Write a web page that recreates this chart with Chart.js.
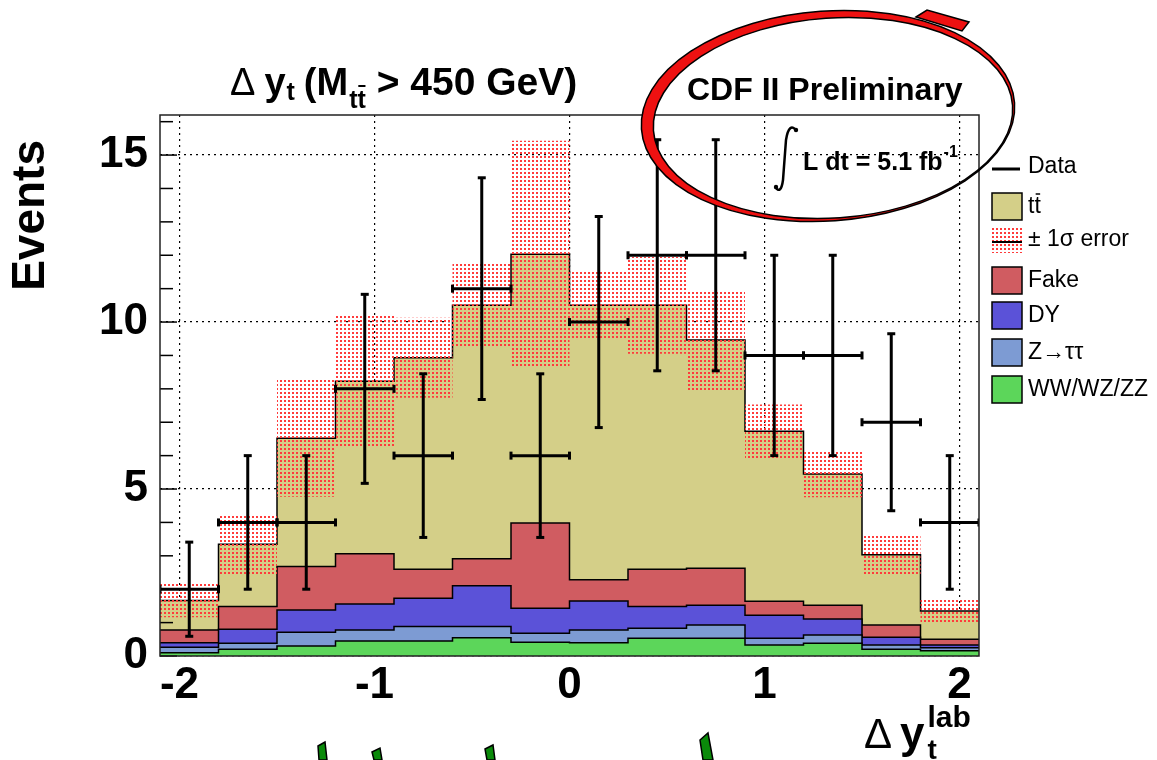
<!DOCTYPE html>
<html>
<head>
<meta charset="utf-8">
<script src="https://cdn.jsdelivr.net/npm/chart.js@4.4.1/dist/chart.umd.min.js"></script>
<style>
  html, body { margin: 0; padding: 0; background: #fff; }
  #wrap { width: 1157px; height: 760px; }
</style>
</head>
<body>
<div id="wrap"><canvas id="c" width="1157" height="760"></canvas></div>
<script>
// bins of Delta y_t (lab), width 0.3
const binEdges = [-2.1, -1.8, -1.5, -1.2, -0.9, -0.6, -0.3, 0, 0.3, 0.6, 0.9, 1.2, 1.5, 1.8, 2.1];
// stacked backgrounds, bottom -> top
const dibosonVals = [0.10, 0.20, 0.30, 0.45, 0.45, 0.55, 0.41, 0.40, 0.53, 0.53, 0.33, 0.38, 0.20, 0.16];
const ztautauVals = [0.16, 0.18, 0.41, 0.33, 0.43, 0.33, 0.27, 0.38, 0.30, 0.40, 0.20, 0.25, 0.13, 0.09];
const dyVals      = [0.14, 0.42, 0.67, 0.78, 0.85, 1.22, 0.75, 0.87, 0.65, 0.59, 0.69, 0.48, 0.23, 0.08];
const fakeVals    = [0.38, 0.68, 1.30, 1.50, 0.87, 0.81, 2.55, 0.63, 1.12, 1.11, 0.42, 0.41, 0.37, 0.17];
const ttbarVals   = [0.88, 1.87, 3.84, 5.17, 6.33, 7.59, 8.05, 8.22, 7.90, 6.83, 5.09, 3.93, 2.10, 0.85];
// +-1 sigma band on the total prediction
const sysErr      = [0.50, 0.90, 1.75, 2.00, 1.20, 1.25, 3.40, 1.00, 1.45, 1.50, 0.80, 0.70, 0.58, 0.35];
// data
const dataVals = [2, 4, 4, 8, 6, 11, 6, 10, 12, 12, 9, 9, 7, 4];
const dataErr  = [1.41, 2.00, 2.00, 2.83, 2.45, 3.32, 2.45, 3.16, 3.46, 3.46, 3.00, 3.00, 2.65, 2.00];
const xTicks = [-2, -1, 0, 1, 2];
const yTicks = [0, 5, 10, 15];

const FONT = '"Liberation Sans", Arial, Helvetica, sans-serif';
const colors = { ww: '#5cd65a', ztt: '#7d9bd3', dy: '#5b52d8', fake: '#d05c61', tt: '#d4cf88' };

function cumulate(arrs) {
  return arrs[0].map((_, i) => arrs.reduce((s, a) => s + a[i], 0));
}
// histogram as step line: value at left edge, repeated at right end
function stepPts(vals) {
  const pts = vals.map((v, i) => ({ x: binEdges[i], y: v }));
  pts.push({ x: binEdges[binEdges.length - 1], y: vals[vals.length - 1] });
  return pts;
}

const cWW = cumulate([dibosonVals]);
const cZ = cumulate([dibosonVals, ztautauVals]);
const cDY = cumulate([dibosonVals, ztautauVals, dyVals]);
const cFake = cumulate([dibosonVals, ztautauVals, dyVals, fakeVals]);
const cTot = cumulate([dibosonVals, ztautauVals, dyVals, fakeVals, ttbarVals]);
const bandHi = cTot.map((v, i) => v + sysErr[i]);
const bandLo = cTot.map((v, i) => Math.max(0, v - sysErr[i]));

// data crosses: horizontal bin bar, then vertical error bar, gaps between
const dataPts = [], dataRot = [], dataRad = [];
dataVals.forEach((v, i) => {
  const lo = binEdges[i], hi = binEdges[i + 1], c = (lo + hi) / 2;
  dataPts.push({ x: lo, y: v }, { x: hi, y: v }, { x: c, y: null },
               { x: c, y: v - dataErr[i] }, { x: c, y: v + dataErr[i] }, { x: c, y: null });
  dataRot.push(90, 90, 0, 0, 0, 0);
  dataRad.push(4, 4, 0, 4, 4, 0);
});

const canvas = document.getElementById('c');
const ctx0 = canvas.getContext('2d');
const pc = document.createElement('canvas');
pc.width = 4; pc.height = 4;
const pg = pc.getContext('2d');
pg.fillStyle = '#ff3b3b';
pg.fillRect(0, 0, 2, 2);
const hatch = ctx0.createPattern(pc, 'repeat');

function hist(label, data, color, fill) {
  return {
    label, data: stepPts(data), backgroundColor: color, borderColor: '#000', borderWidth: 1.5,
    fill, stepped: true, pointRadius: 0, tension: 0, order: 2
  };
}

function drawParts(ctx, x, base, parts) {
  parts.forEach(p => {
    ctx.font = p.f;
    const yb = base + (p.dy || 0);
    ctx.fillText(p.t, x, yb);
    const w = ctx.measureText(p.t).width;
    if (p.bar) {
      ctx.save();
      ctx.lineWidth = 2;
      ctx.beginPath();
      ctx.moveTo(x + w * 0.55, yb - p.barH);
      ctx.lineTo(x + w * 0.98, yb - p.barH);
      ctx.stroke();
      ctx.restore();
    }
    x += w + (p.gap || 0);
  });
  return x;
}

const decor = {
  id: 'decor',
  afterDraw(chart) {
    const { ctx, chartArea: a, scales: { y } } = chart;
    ctx.save();
    ctx.strokeStyle = '#000';
    ctx.fillStyle = '#000';
    // y ticks inside frame
    ctx.lineWidth = 1.5;
    for (let v = 0; v <= 16; v++) {
      const py = y.getPixelForValue(v);
      const len = v % 5 === 0 ? 17 : 13;
      ctx.beginPath(); ctx.moveTo(a.left, py); ctx.lineTo(a.left + len, py); ctx.stroke();
    }
    // frame
    ctx.strokeStyle = '#222';
    ctx.lineWidth = 1.5;
    ctx.strokeRect(a.left, a.top, a.right - a.left, a.bottom - a.top);

    // title
    ctx.fillStyle = '#000';
    ctx.strokeStyle = '#000';
    ctx.textBaseline = 'alphabetic';
    ctx.textAlign = 'left';
    drawParts(ctx, 230, 95, [
      { t: '\u0394', f: '38px ' + FONT, gap: 9 },
      { t: 'y', f: 'bold 38px ' + FONT, gap: 1 },
      { t: 't', f: 'bold 25px ' + FONT, dy: 5, gap: 9 },
      { t: '(M', f: 'bold 38px ' + FONT, gap: 1 },
      { t: 'tt', f: 'bold 25px ' + FONT, dy: 13, bar: true, barH: 22 },
      { t: ' > 450 GeV)', f: 'bold 39px ' + FONT }
    ]);

    // CDF label + luminosity
    ctx.font = 'bold 32px ' + FONT;
    ctx.fillText('CDF II Preliminary', 687, 100);
    ctx.lineWidth = 2.5;
    ctx.beginPath();
    ctx.moveTo(797, 131);
    ctx.quadraticCurveTo(789, 121, 786, 140);
    ctx.lineTo(783, 180);
    ctx.quadraticCurveTo(781, 195, 775, 187);
    ctx.stroke();
    ctx.beginPath(); ctx.arc(796, 130, 2.2, 0, Math.PI * 2); ctx.fill();
    ctx.beginPath(); ctx.arc(776, 187, 2.2, 0, Math.PI * 2); ctx.fill();
    ctx.font = 'bold 25px ' + FONT;
    ctx.fillText('L dt = 5.1 fb', 803, 170);
    const lw = ctx.measureText('L dt = 5.1 fb').width;
    ctx.font = 'bold 16px ' + FONT;
    ctx.fillText('-1', 803 + lw + 1, 157);

    // y axis title
    ctx.save();
    ctx.translate(44, 140);
    ctx.rotate(-Math.PI / 2);
    ctx.textAlign = 'right';
    ctx.font = 'bold 46px ' + FONT;
    ctx.fillText('Events', 0, 0);
    ctx.restore();

    // x axis title
    let xx = drawParts(ctx, 864, 748, [
      { t: '\u0394', f: '42px ' + FONT, gap: 8 },
      { t: 'y', f: 'bold 44px ' + FONT, gap: 3 }
    ]);
    ctx.font = 'bold 28px ' + FONT;
    ctx.fillText('t', xx, 759);
    ctx.font = 'bold 30px ' + FONT;
    ctx.fillText('lab', xx, 727);

    // legend
    const lx = 992, tx = 1028;
    ctx.font = '23px ' + FONT;
    ctx.textBaseline = 'middle';
    ctx.lineWidth = 3;
    ctx.beginPath(); ctx.moveTo(lx, 169); ctx.lineTo(lx + 28, 169); ctx.stroke();
    ctx.fillText('Data', tx, 167);
    const boxes = [
      [colors.tt, 193, 'tt'],
      [colors.fake, 267, 'Fake'],
      [colors.dy, 302, 'DY'],
      [colors.ztt, 339, 'Z\u2192\u03c4\u03c4'],
      [colors.ww, 376, 'WW/WZ/ZZ']
    ];
    ctx.lineWidth = 1.5;
    boxes.forEach(([col, top, txt]) => {
      ctx.fillStyle = col;
      ctx.fillRect(lx, top, 30, 27);
      ctx.strokeStyle = '#000';
      ctx.strokeRect(lx, top, 30, 27);
      ctx.fillStyle = '#000';
      ctx.fillText(txt, tx, top + 14);
      if (txt === 'tt') {
        const w = ctx.measureText('tt').width;
        ctx.beginPath(); ctx.moveTo(tx + w * 0.6, top + 1); ctx.lineTo(tx + w * 0.95, top + 1); ctx.stroke();
      }
    });
    ctx.fillStyle = hatch;
    ctx.fillRect(lx, 228, 30, 25);
    ctx.fillStyle = '#000';
    ctx.lineWidth = 2;
    ctx.beginPath(); ctx.moveTo(lx, 242); ctx.lineTo(lx + 30, 242); ctx.stroke();
    ctx.fillText('\u00b1 1\u03c3 error', tx, 240);

    // hand-drawn red ring
    const outer = new Path2D();
    outer.ellipse(828, 116, 187, 105, -0.07, 0, Math.PI * 2);
    const inner = new Path2D();
    inner.ellipse(833, 118, 180, 100, -0.07, 0, Math.PI * 2);
    const ring = new Path2D();
    ring.addPath(outer); ring.addPath(inner);
    ctx.fillStyle = '#ee1111';
    ctx.fill(ring, 'evenodd');
    ctx.strokeStyle = '#000';
    ctx.lineWidth = 1.5;
    ctx.stroke(outer); ctx.stroke(inner);
    ctx.beginPath();
    ctx.moveTo(916, 17); ctx.lineTo(927, 10); ctx.lineTo(969, 22); ctx.lineTo(962, 31); ctx.closePath();
    ctx.fill(); ctx.stroke();

    // green pen strokes at the bottom edge
    ctx.fillStyle = '#0a8a0a';
    [[[318, 746], [325, 742], [327, 760], [319, 760]],
     [[372, 752], [380, 748], [382, 760], [374, 760]],
     [[485, 749], [493, 745], [495, 760], [487, 760]],
     [[700, 740], [708, 733], [713, 760], [703, 760]]].forEach(poly => {
      ctx.beginPath();
      poly.forEach((p, i) => i ? ctx.lineTo(p[0], p[1]) : ctx.moveTo(p[0], p[1]));
      ctx.closePath(); ctx.fill(); ctx.stroke();
    });
    ctx.restore();
  }
};

new Chart(canvas, {
  type: 'line',
  data: {
    datasets: [
      hist('WW/WZ/ZZ', cWW, colors.ww, 'origin'),
      hist('Z\u2192\u03c4\u03c4', cZ, colors.ztt, '-1'),
      hist('DY', cDY, colors.dy, '-1'),
      hist('Fake', cFake, colors.fake, '-1'),
      hist('tt', cTot, colors.tt, '-1'),
      { label: 'band hi', data: stepPts(bandHi), borderWidth: 0, pointRadius: 0, stepped: true, fill: false, order: 1 },
      { label: '\u00b1 1\u03c3 error', data: stepPts(bandLo), borderWidth: 0, pointRadius: 0, stepped: true,
        fill: '-1', backgroundColor: hatch, order: 1 },
      { label: 'Data', data: dataPts, borderColor: '#000', borderWidth: 3, spanGaps: false, fill: false,
        pointStyle: 'line', pointRotation: dataRot, pointRadius: dataRad, pointBorderWidth: 3,
        pointBorderColor: '#000', borderCapStyle: 'butt', order: 0 }
    ]
  },
  options: {
    responsive: false,
    animation: false,
    events: [],
    layout: { padding: { top: 115, right: 178, left: 0, bottom: 0 } },
    plugins: { legend: { display: false }, tooltip: { enabled: false } },
    scales: {
      x: {
        type: 'linear', min: -2.1, max: 2.1,
        afterBuildTicks: s => { s.ticks = xTicks.map(v => ({ value: v })); },
        afterFit: s => { s.height = 104; },
        grid: { color: '#000', lineWidth: 1.2, drawTicks: false },
        border: { display: false, dash: [2, 4] },
        ticks: { color: '#000', padding: 3, maxRotation: 0, autoSkip: false,
                 font: { family: FONT, weight: 'bold', size: 44 }, callback: v => String(v) }
      },
      y: {
        type: 'linear', min: 0, max: 16.2,
        afterBuildTicks: s => { s.ticks = yTicks.map(v => ({ value: v })); },
        afterFit: s => { s.width = 160; },
        grid: { color: '#000', lineWidth: 1.2, drawTicks: false },
        border: { display: false, dash: [2, 4] },
        ticks: { color: '#000', padding: 12, autoSkip: false,
                 font: { family: FONT, weight: 'bold', size: 44 }, callback: v => String(v) }
      }
    }
  },
  plugins: [decor]
});
</script>
</body>
</html>
